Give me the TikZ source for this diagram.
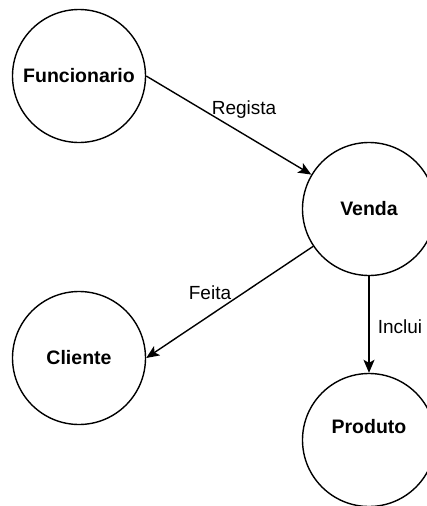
\documentclass[tikz,border=0pt]{standalone}
\usepackage{fontspec}
\setmainfont{Liberation Sans}
\usetikzlibrary{arrows.meta}
\begin{document}
\begin{tikzpicture}[x=1pt,y=-1pt,
  entity/.style={draw=black, line width=1.4pt, circle, minimum size=133pt, inner sep=0pt,
                 font=\fontsize{19.5}{23}\selectfont\bfseries},
  ename/.style={font=\fontsize{19.5}{23}\selectfont\bfseries, inner sep=0pt},
  rel/.style={draw=black, line width=1.4pt, -{Stealth[length=13pt,width=11pt,inset=3pt]}},
  lbl/.style={font=\fontsize{19}{23}\selectfont, inner sep=0pt}]
  \useasboundingbox (0,0) rectangle (426,506);

  % entities
  \node[entity] (fun) at (79,76) {Funcionario};
  \node[entity] (venda) at (369,209) {Venda};
  \node[entity] (cli) at (79,358) {Cliente};
  \node[entity, label={[ename, yshift=13pt]center:Produto}] (prod) at (369,440) {};

  % relationships
  \draw[rel] (fun.east) -- (venda);
  \draw[rel] (venda) -- (cli.east);
  \draw[rel] (venda.south) -- (prod.north);

  % relationship names
  \node[lbl] (lregista) at (244,110) {Regista};
  \node[lbl] (lfeita) at (210,293) {Feita};
  \node[lbl] (linclui) at (400,327) {Inclui};
\end{tikzpicture}
\end{document}
